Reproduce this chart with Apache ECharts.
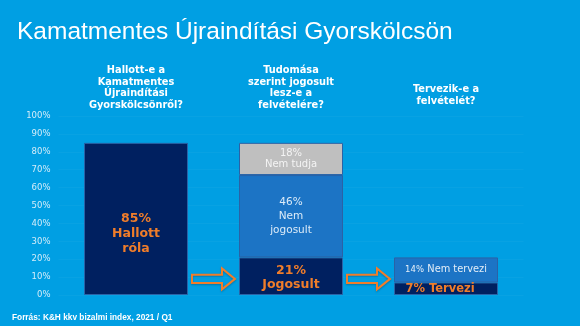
<!DOCTYPE html>
<html><head><meta charset="utf-8">
<script src="https://cdn.jsdelivr.net/npm/echarts@6/dist/echarts.min.js"></script>
<style>html,body{margin:0;padding:0;background:#009FE3;}#c{width:580px;height:326px;}</style>
</head><body><div id="c"></div>
<script>
// ---- data ----
const titleText = 'Kamatmentes Újraindítási Gyorskölcsön';
const footerText = 'Forrás: K&H kkv bizalmi index, 2021 / Q1';
const categories = [
  'Hallott-e a\nKamatmentes\nÚjraindítási\nGyorskölcsönről?',
  'Tudomása\nszerint jogosult\nlesz-e a\nfelvételére?',
  'Tervezik-e a\nfelvételét?'
];
const baseValues = [85, 21, 7];          // navy segment
const baseNames = ['Hallott\nróla', 'Jogosult', 'Tervezi'];
const midValues = [null, 46, 14];        // mid-blue segment
const midNames = [null, 'Nem\njogosult', 'Nem tervezi'];
const topValues = [null, 18, null];      // grey segment
const topNames = [null, 'Nem tudja', null];
const yTicks = [0, 10, 20, 30, 40, 50, 60, 70, 80, 90, 100];

const chart = echarts.init(document.getElementById('c'), null, {renderer: 'canvas'});
const ORANGE = '#F07D2A';
const baseLabelStyles = [
  {offset: [0, 15], formatter: p => '{b|' + p.value + '%}\n{b|' + baseNames[p.dataIndex].split('\n').join('}\n{b|') + '}'},
  {offset: [0, 1.5], formatter: p => '{j|' + p.value + '%}\n{j|' + baseNames[p.dataIndex] + '}'},
  {offset: [-6, 0.5], formatter: p => '{t|' + p.value + '% ' + baseNames[p.dataIndex] + '}'}
];
const richBase = {
  b: {fontFamily: 'DejaVu Sans', fontWeight: 'bold', fontSize: 12.5, color: ORANGE, lineHeight: 15},
  j: {fontFamily: 'DejaVu Sans', fontWeight: 'bold', fontSize: 12.5, color: ORANGE, lineHeight: 13.5},
  t: {fontFamily: 'DejaVu Sans', fontWeight: 'bold', fontSize: 11.5, color: ORANGE}
};
const border = {borderColor: '#2A62A6', borderWidth: 1};

chart.setOption({
  backgroundColor: '#009FE3',
  animation: false,
  title: {
    text: titleText, left: 12, top: 15,
    textStyle: {color: '#FFFFFF', fontFamily: 'Liberation Sans', fontWeight: 'normal', fontSize: 24.5}
  },
  grid: {left: 58.5, right: 56.5, top: 116, bottom: 31},
  xAxis: {
    type: 'category', position: 'top',
    data: categories.map((c, i) => i === 2 ? {value: c, textStyle: {padding: [0, 0, 4, 0]}} : c),
    axisLine: {show: false}, axisTick: {show: false},
    axisLabel: {color: '#FFFFFF', fontFamily: 'DejaVu Sans', fontWeight: 'bold', fontSize: 9.8, lineHeight: 11.6, margin: 5, interval: 0}
  },
  yAxis: {
    type: 'value', min: 0, max: 100, interval: 10,
    axisLine: {show: false}, axisTick: {show: false},
    splitLine: {lineStyle: {color: 'rgba(255,255,255,0.03)', width: 1}},
    axisLabel: {color: '#D3ECF9', fontFamily: 'DejaVu Sans', fontSize: 8.5, margin: 8,
      formatter: v => yTicks.includes(v) ? v + '%' : ''}
  },
  series: [
    {
      type: 'bar', stack: 's', barWidth: 104,
      itemStyle: Object.assign({color: '#002060'}, border),
      data: baseValues.map((v, i) => ({value: v, label: Object.assign({show: true, position: 'inside', rich: richBase}, baseLabelStyles[i])}))
    },
    {
      type: 'bar', stack: 's', barWidth: 104,
      itemStyle: Object.assign({color: '#1C74C5'}, border),
      data: midValues.map((v, i) => v == null ? '-' : {value: v}),
      label: {
        show: true, position: 'inside',
        formatter: p => p.dataIndex === 2
          ? '{s|' + p.value + '%} {m|' + midNames[p.dataIndex] + '}'
          : '{n|' + p.value + '%}\n{n|' + midNames[p.dataIndex].split('\n').join('}\n{n|') + '}',
        rich: {
          n: {fontFamily: 'DejaVu Sans', fontSize: 10.5, color: '#DCEBF8', lineHeight: 14.2},
          s: {fontFamily: 'DejaVu Sans', fontSize: 8.5, color: '#E4EEF8'},
          m: {fontFamily: 'DejaVu Sans', fontSize: 9.8, color: '#E4EEF8'}
        }
      }
    },
    {
      type: 'bar', stack: 's', barWidth: 104,
      itemStyle: Object.assign({color: '#BFBFBF'}, border),
      data: topValues.map(v => v == null ? '-' : v),
      label: {
        show: true, position: 'inside',
        formatter: p => p.value + '%\n' + topNames[p.dataIndex],
        fontFamily: 'DejaVu Sans', fontSize: 10, color: '#F4F4F4', lineHeight: 11.5
      }
    }
  ]
});

// decorative arrows between the bars, positioned from the axes
const half = 52;
const yc = chart.convertToPixel({yAxisIndex: 0}, 9);
const arrows = [0, 1].map(i => {
  const x0 = chart.convertToPixel({xAxisIndex: 0}, i) + half + 4;
  const x1 = chart.convertToPixel({xAxisIndex: 0}, i + 1) - half - 4;
  const xh = x1 - 13;
  return {
    type: 'polygon',
    shape: {points: [[x0, yc - 4.2], [xh, yc - 4.2], [xh, yc - 10.5], [x1, yc], [xh, yc + 10.5], [xh, yc + 4.2], [x0, yc + 4.2]]},
    style: {fill: 'none', stroke: ORANGE, lineWidth: 2, lineJoin: 'miter',
      shadowColor: 'rgba(0,0,0,0.25)', shadowBlur: 2, shadowOffsetY: 1},
    z: 10
  };
});
chart.setOption({
  graphic: arrows.concat([{
    type: 'text', left: 12, top: 314,
    style: {text: footerText, fill: '#FFFFFF', font: 'bold 8.3px "Liberation Sans"'}
  }])
});
</script>
</body></html>
